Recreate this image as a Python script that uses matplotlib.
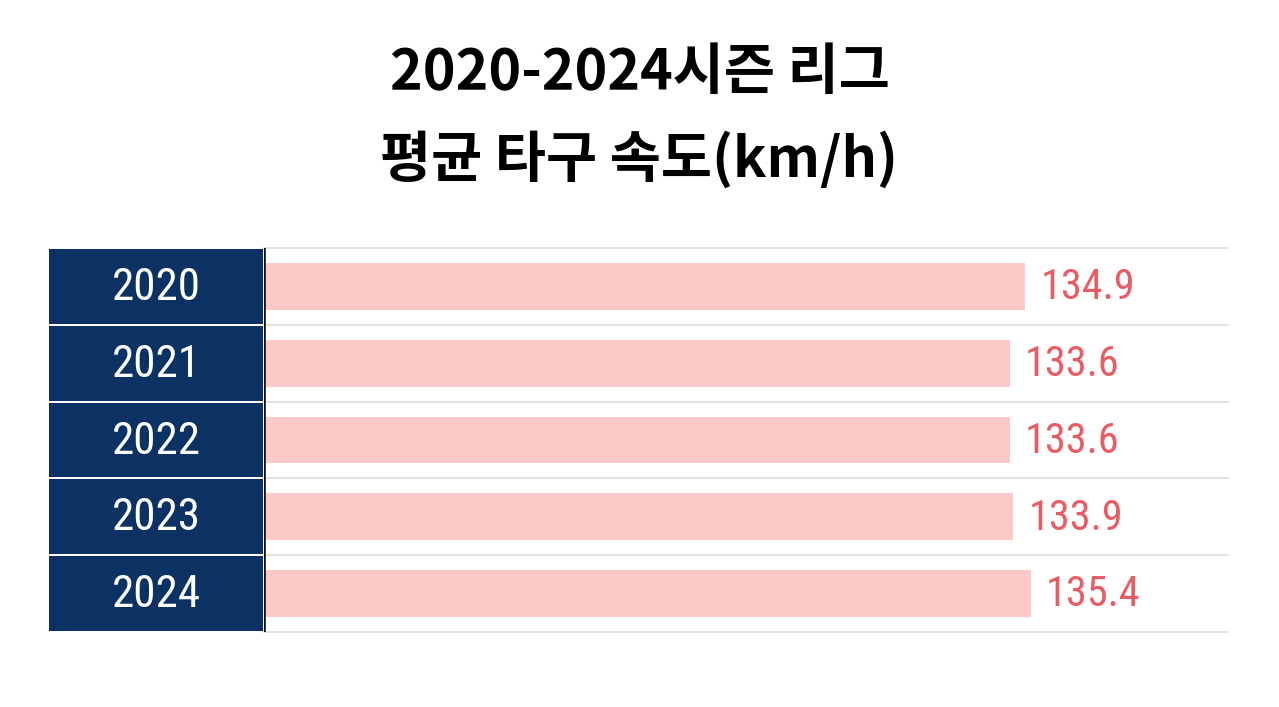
"""Average batted-ball speed per season, horizontal bar table."""

import matplotlib
matplotlib.use("Agg")
import matplotlib.pyplot as plt
from matplotlib import font_manager

seasons = ["2020", "2021", "2022", "2023", "2024"]
exit_speed = [134.9, 133.6, 133.6, 133.9, 135.4]
title_lines = ["2020-2024시즌 리그", "평균 타구 속도(km/h)"]

NAVY = "#0b3262"
PINK = "#fdc8c8"
SALMON = "#e85d63"
GRID = "#e3e3e3"

W, H = 1279, 707


def narrow_font():
    """Pick a condensed sans face if one is installed."""
    faces = font_manager.fontManager.ttflist
    for want in ("Roboto Condensed", "Liberation Sans Narrow", "Open Sans Condensed",
                 "DejaVu Sans Condensed"):
        for f in faces:
            if f.name == want:
                return dict(family=[f.name, "DejaVu Sans"])
    for f in faces:
        if f.stretch in ("condensed", "semi-condensed", "extra-condensed") \
                and f.style == "normal" and f.weight in (400, "normal", "regular"):
            return dict(family=[f.name, "DejaVu Sans"], fontstretch=f.stretch)
    return dict(family=["DejaVu Sans"], fontstretch="condensed")


def kr_weight():
    ws = [f.weight for f in font_manager.fontManager.ttflist
          if f.name == "Noto Sans CJK KR"]
    ws = [w for w in ws if isinstance(w, int)]
    return max(ws) if ws else "bold"


NARROW = narrow_font()
KR = ["Noto Sans CJK KR", "DejaVu Sans"]

fig = plt.figure(figsize=(W / 100, H / 100), dpi=100)
fig.patch.set_facecolor("white")


def box(x0, y0, x1, y1):
    # pixel box (top-left origin) -> figure fraction rect
    return [x0 / W, 1 - y1 / H, (x1 - x0) / W, (y1 - y0) / H]


n = len(seasons)
ypos = list(range(n))

# left column: navy season cells
axl = fig.add_axes(box(49, 248, 263, 632))
axl.barh(ypos, [1] * n, height=0.975, left=0, color=NAVY)
axl.set_xlim(0, 1)
axl.set_ylim(n - 0.5, -0.5)
for y, s in zip(ypos, seasons):
    axl.text(0.5, y + 0.02, s, ha="center", va="center", color="white",
             fontsize=32.5, **NARROW)
axl.axis("off")

# right: bars
ax = fig.add_axes(box(264, 248, 1228, 632))
ax.barh(ypos, exit_speed, height=0.61, color=PINK, zorder=2)
ax.set_xlim(69.7, 152.3)
ax.set_ylim(n - 0.5, -0.5)
for b in [y - 0.5 for y in ypos] + [n - 0.5]:
    ax.axhline(b, color=GRID, lw=1.5, zorder=1, clip_on=False)
for y, v in zip(ypos, exit_speed):
    ax.annotate(f"{v:.1f}", (v, y), xytext=(11, -1), textcoords="offset points",
                ha="left", va="center", color=SALMON, fontsize=30.5, **NARROW)
ax.axvline(69.7, color="#111111", lw=2.6, zorder=3)
ax.axis("off")

for yp, line in zip([73, 160], title_lines):
    fig.text(0.5, 1 - yp / H, line, ha="center", va="center", fontsize=40,
             fontweight=kr_weight(), family=KR, color="black")

fig.savefig("out.png", dpi=100, facecolor="white")
